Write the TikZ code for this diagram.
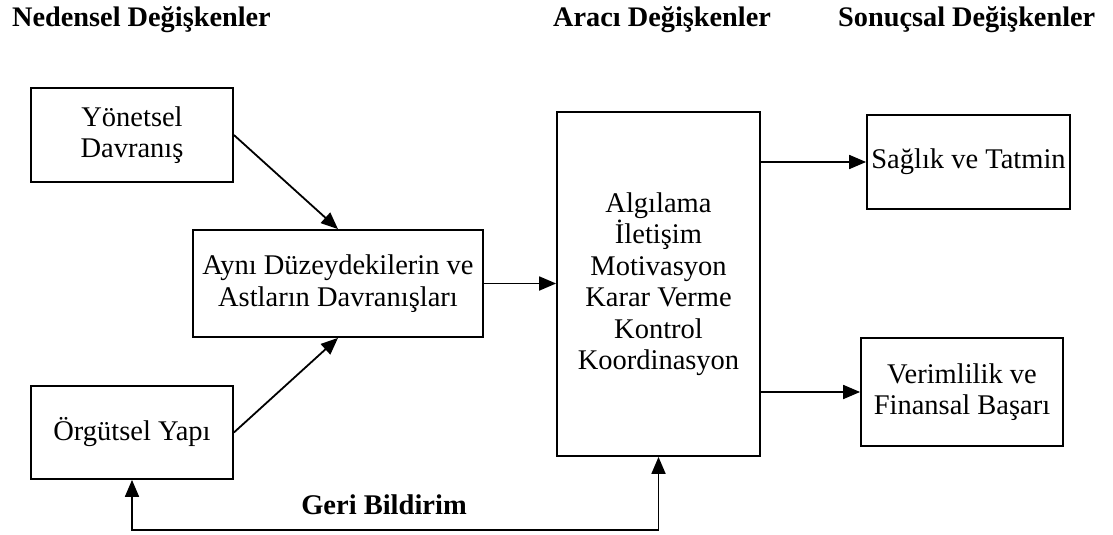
\documentclass[tikz,border=0pt]{standalone}
\usepackage{fontspec}
\setmainfont{Liberation Serif}
\usetikzlibrary{arrows.meta}
\tikzset{
  box/.style={draw, line width=1.8pt, rectangle, align=center, inner sep=0pt,
    font=\fontsize{28.5}{31.5}\selectfont},
  head/.style={font=\fontsize{28.3}{32}\selectfont\bfseries, inner sep=0pt, anchor=west},
  conn/.style={line width=1.8pt, -{Triangle[length=17pt,width=14pt]}},
  conn2/.style={line width=1.8pt, {Triangle[length=17pt,width=14pt]}-{Triangle[length=17pt,width=14pt]}}
}
\begin{document}
\begin{tikzpicture}[x=1pt,y=-1pt]
\useasboundingbox (0,0) rectangle (1113,535);
\node[head] (h1) at (12,20) {Nedensel Değişkenler};
\node[head] (h2) at (553,20) {Aracı Değişkenler};
\node[head] (h3) at (838,20) {Sonuçsal Değişkenler};

\node[box, minimum width=202pt, minimum height=94pt] (y1) at (132,135) {Yönetsel\\Davranış};
\node[box, minimum width=290pt, minimum height=107pt] (a) at (338,283.5) {Aynı Düzeydekilerin ve\\Astların Davranışları};
\node[box, minimum width=202pt, minimum height=93pt] (o) at (132,432.5) {Örgütsel Yapı};
\node[box, minimum width=203pt, minimum height=344pt] (m) at (658.5,284) {Algılama\\İletişim\\Motivasyon\\Karar Verme\\Kontrol\\Koordinasyon};
\node[box, minimum width=203pt, minimum height=94pt] (s) at (968.5,162) {Sağlık ve Tatmin};
\node[box, minimum width=202pt, minimum height=108pt] (v) at (962,392) {Verimlilik ve\\Finansal Başarı};

\coordinate (fb) at (658.5,530);
\node[font=\fontsize{28.5}{32}\selectfont\bfseries, inner sep=0pt] (gb) at (384,505) {Geri Bildirim};

\draw[conn] (y1.east) -- (a.north);
\draw[conn] (o.east) -- (a.south);
\draw[conn] (a.east) -- (a.east -| m.west);
\draw[conn] (s.west -| m.east) -- (s.west);
\draw[conn] (v.west -| m.east) -- (v.west);
\draw[conn2] (o.south) -- (o.south |- fb) -- (fb) -- (m.south);
\end{tikzpicture}
\end{document}
